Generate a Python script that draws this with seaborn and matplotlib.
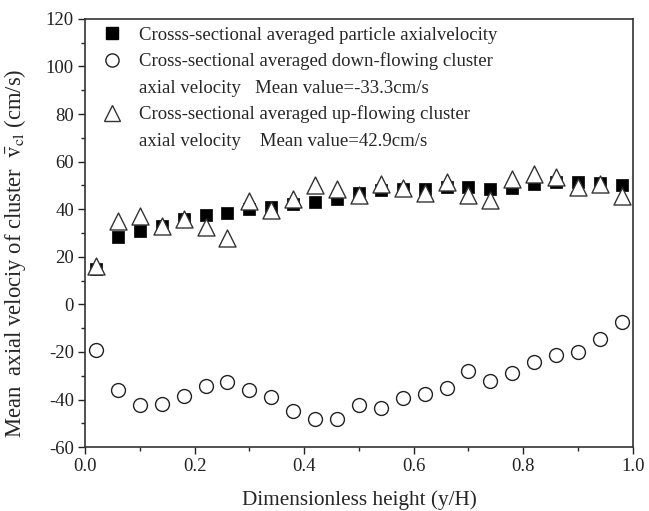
import matplotlib
matplotlib.use("Agg")
import matplotlib.pyplot as plt
import seaborn as sns
import numpy as np
import pandas as pd
from matplotlib.lines import Line2D
from matplotlib.ticker import MultipleLocator

height = [0.02, 0.06, 0.10, 0.14, 0.18, 0.22, 0.26, 0.30, 0.34, 0.38, 0.42, 0.46, 0.50,
          0.54, 0.58, 0.62, 0.66, 0.70, 0.74, 0.78, 0.82, 0.86, 0.90, 0.94, 0.98]
particle = [15, 28.5, 31, 33, 36, 37.5, 38.5, 40, 41, 42, 43, 44.5, 47,
            48, 48.5, 48.5, 49.5, 49.5, 48.5, 49, 50.5, 51.5, 51.5, 51, 50]
down_cluster = [-19.2, -35.8, -42.3, -41.7, -38.6, -34.2, -32.5, -36, -38.8, -44.7, -48.2, -48.2, -42.3,
                -43.5, -39.3, -37.6, -35, -27.9, -32.3, -28.9, -24.4, -21.3, -20.2, -14.6, -7.2]
up_cluster = [16, 35, 37, 33, 36, 32.5, 28, 43.5, 39.5, 44.5, 50, 48.5, 46,
              50.5, 49, 47, 51.5, 46, 44, 52.5, 55, 53.5, 49.5, 50.5, 45.5]

labels = ["Crosss-sectional averaged particle axialvelocity",
          "Cross-sectional averaged down-flowing cluster",
          "axial velocity   Mean value=-33.3cm/s",
          "Cross-sectional averaged up-flowing cluster",
          "axial velocity    Mean value=42.9cm/s"]

sns.set_style("ticks")
plt.rcParams['font.family'] = ['Liberation Serif', 'DejaVu Serif']
plt.rcParams['mathtext.fontset'] = 'stix'
plt.rcParams['axes.unicode_minus'] = False

df = pd.DataFrame({"h": height, "p": particle, "d": down_cluster, "u": up_cluster})

fig = plt.figure(figsize=(6.49, 5.11), dpi=100)
ax = fig.add_axes([0.131, 0.125, 0.844, 0.838])

sns.scatterplot(data=df, x="h", y="p", marker="s", s=80, color="black",
                edgecolor="black", linewidth=0.5, ax=ax, zorder=3)
sns.scatterplot(data=df, x="h", y="d", marker="o", s=100, facecolor="white",
                edgecolor="#222222", linewidth=1.0, ax=ax, zorder=3)
sns.scatterplot(data=df, x="h", y="u", marker="^", s=150, facecolor="white",
                edgecolor="#333333", linewidth=1.0, ax=ax, zorder=4)

ax.set_xlim(0, 1.0)
ax.set_ylim(-60, 120)
ax.xaxis.set_major_locator(MultipleLocator(0.2))
ax.xaxis.set_minor_locator(MultipleLocator(0.1))
ax.yaxis.set_major_locator(MultipleLocator(20))
ax.yaxis.set_minor_locator(MultipleLocator(10))
ax.set_xticks(ax.get_xticks())
ax.set_xticklabels([f"{v:.1f}" for v in ax.get_xticks()])
ax.set_xlim(0, 1.0)
ax.tick_params(axis="both", which="major", direction="out", length=5, width=1,
               labelsize=13.5, colors="#222222", pad=3)
ax.tick_params(axis="both", which="minor", direction="out", length=3, width=1)
for s in ax.spines.values():
    s.set_linewidth(1.2)
    s.set_color("#333333")

ax.set_xlabel("Dimensionless height (y/H)", fontsize=15.3, labelpad=11)
ax.set_ylabel(r"Mean  axial velociy of cluster  $\bar{\mathrm{v}}_{\mathrm{cl}}$ (cm/s)",
              fontsize=16.3)
ax.yaxis.set_label_coords(-0.104, 0.453)

handles = [
    Line2D([], [], marker="s", linestyle="none", markersize=8.5, color="black"),
    Line2D([], [], marker="o", linestyle="none", markersize=9.5, markerfacecolor="white",
           markeredgecolor="#222222"),
    Line2D([], [], linestyle="none"),
    Line2D([], [], marker="^", linestyle="none", markersize=11, markerfacecolor="white",
           markeredgecolor="#333333"),
    Line2D([], [], linestyle="none"),
]
ax.legend(handles, labels, loc="upper left", bbox_to_anchor=(0.01, 1.0), frameon=False,
          fontsize=13.5, labelspacing=0.48, handletextpad=0.7, handlelength=1.5,
          borderaxespad=0.0)

fig.savefig("out.png", dpi=100)
